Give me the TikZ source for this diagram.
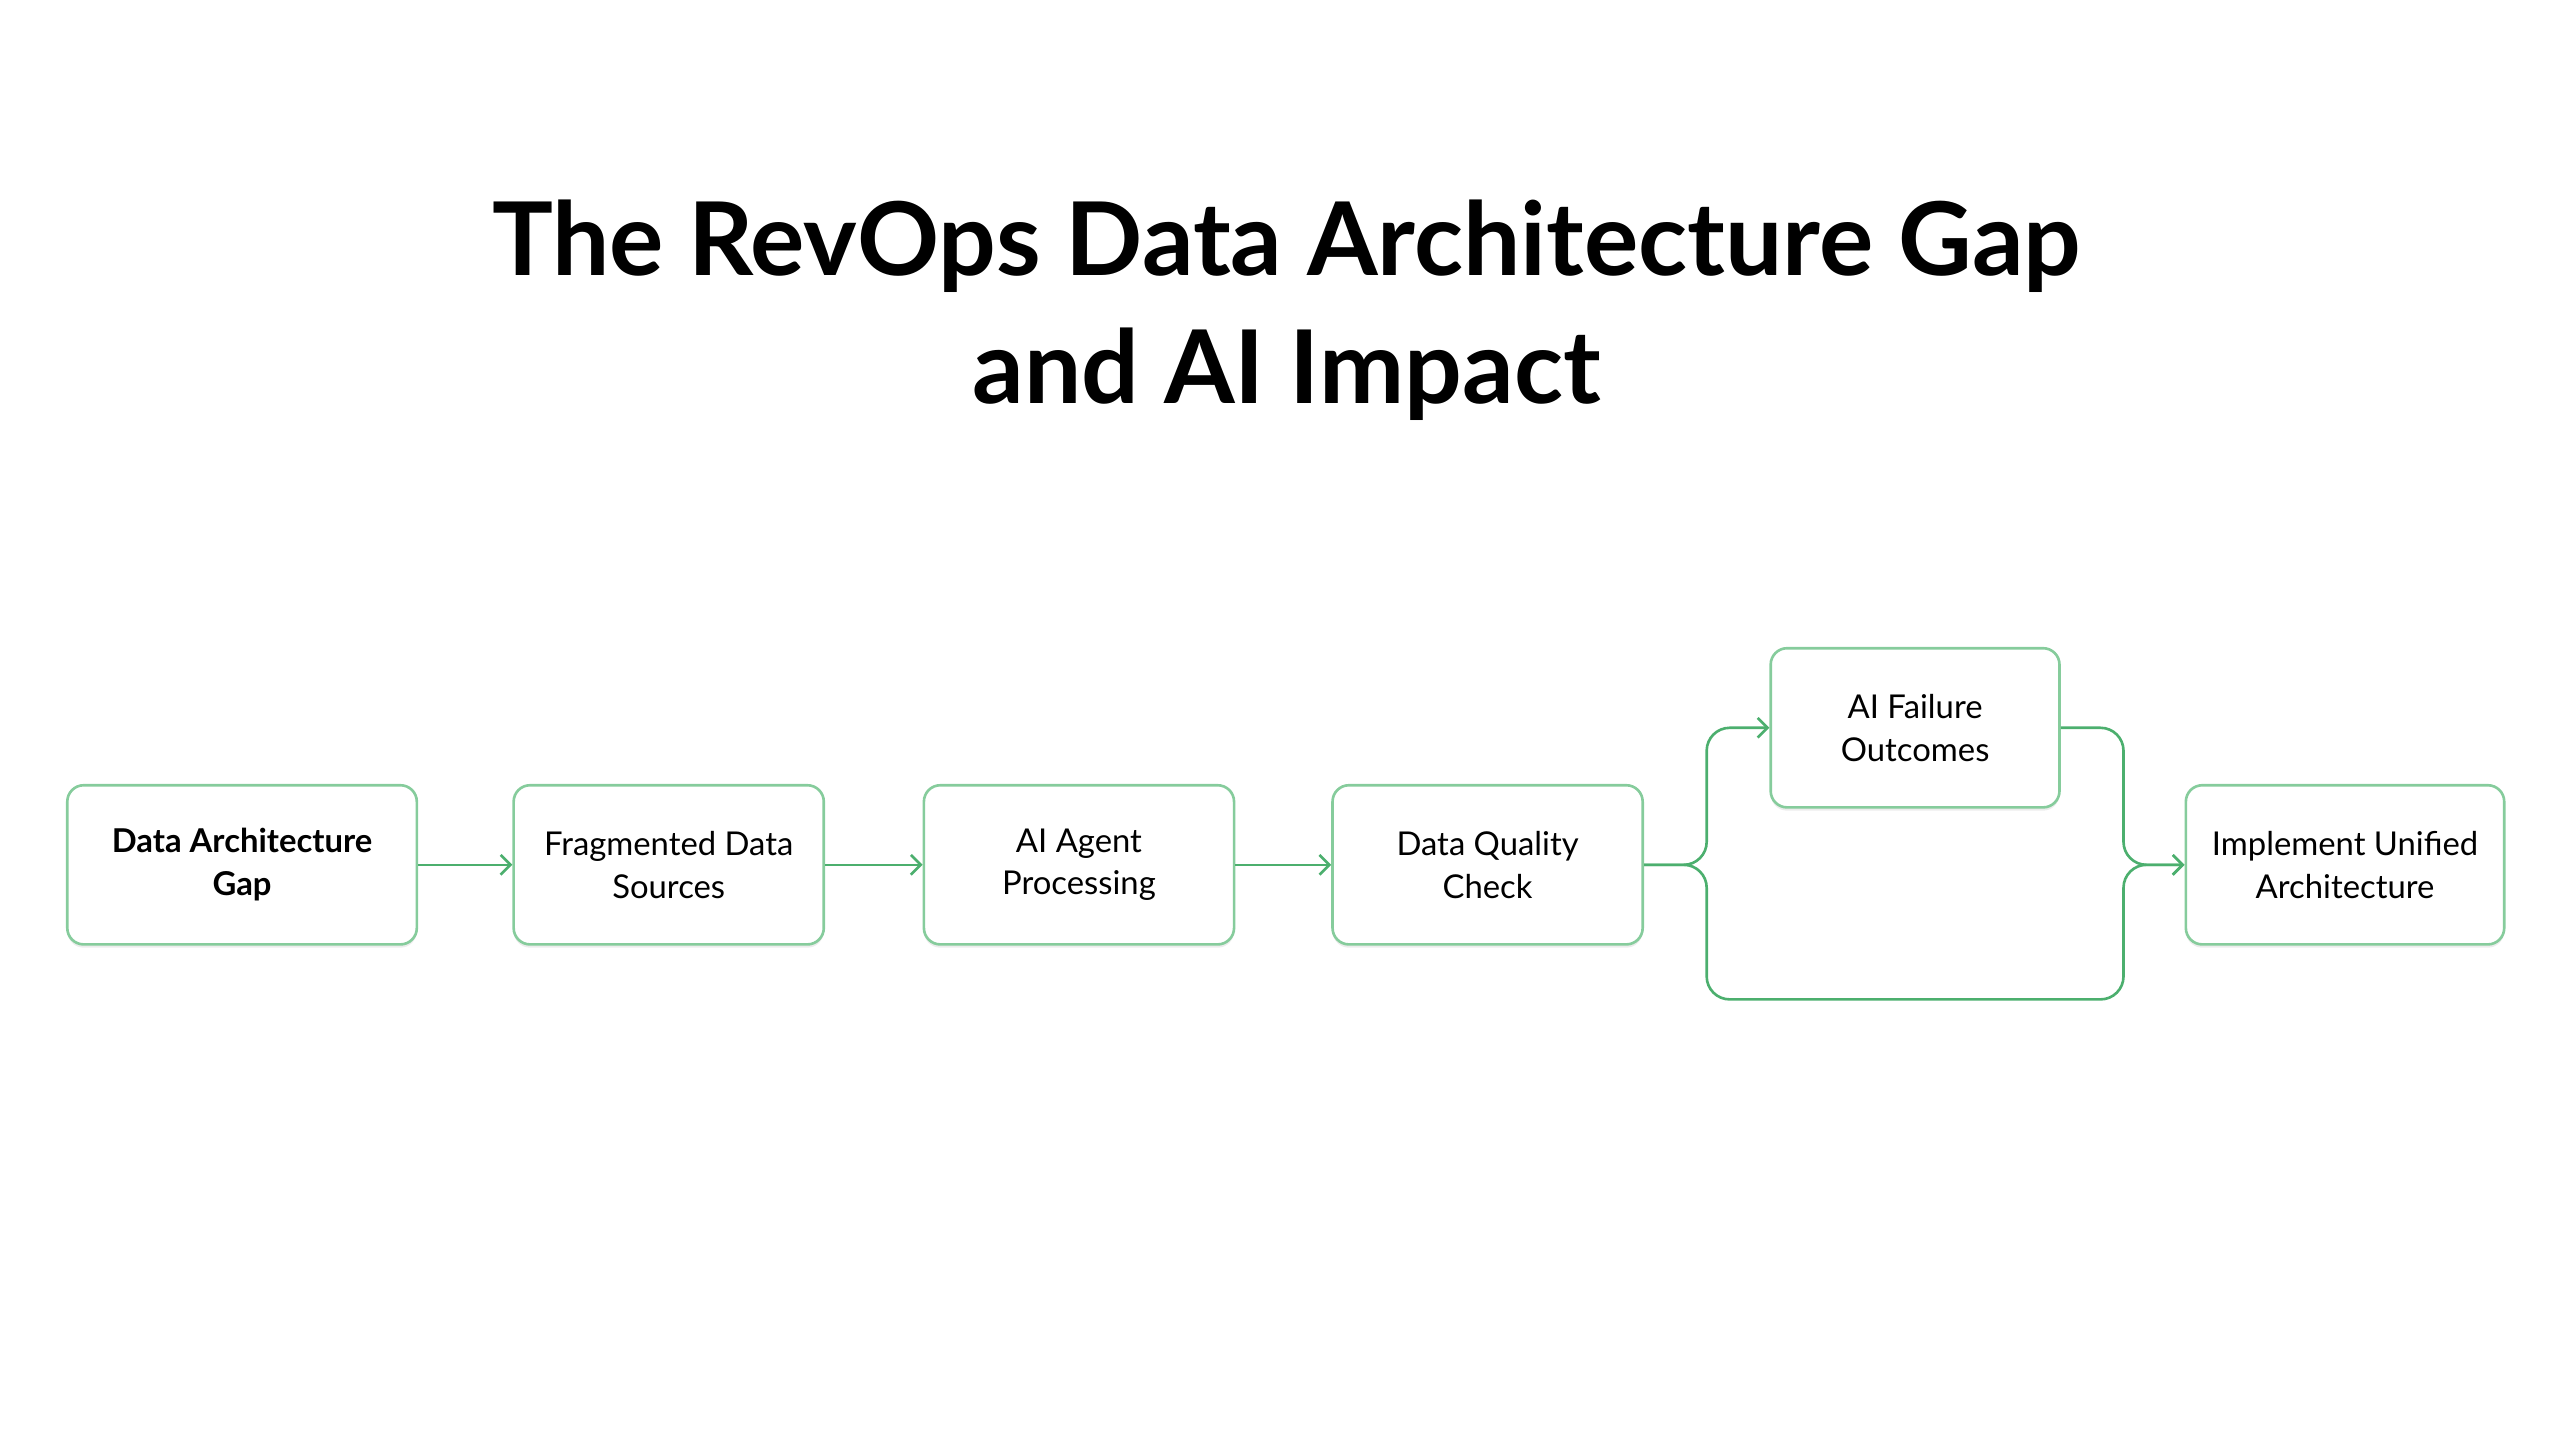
\documentclass[tikz,border=0pt]{standalone}
\usepackage{fontspec}
\setmainfont{Lato}
\usetikzlibrary{arrows.meta,shadows}
\definecolor{bord}{HTML}{86CC9C}
\definecolor{arr}{HTML}{4CAF6E}
\tikzset{
 box/.style={draw=bord,line width=1.6pt,rounded corners=10pt,fill=white,align=center,
  font=\fontsize{20}{26}\selectfont,minimum height=97pt,inner sep=0pt,
  drop shadow={shadow xshift=0pt,shadow yshift=-2pt,opacity=0.15}},
 conn/.style={draw=arr,line width=1.6pt,-{Straight Barb[length=6pt,width=12pt]},rounded corners=14pt}
}
\begin{document}
\begin{tikzpicture}[x=1pt,y=-1pt]
\useasboundingbox (0,0) rectangle (1560,877.5);
\node[font=\fontsize{62}{78}\selectfont\bfseries,align=center] (title) at (784,189) {The RevOps Data Architecture Gap\\and AI Impact};
\node[box,minimum width=213pt,font=\fontsize{20}{26}\selectfont\bfseries] (b1) at (147.5,527) {Data Architecture\\Gap};
\node[box,minimum width=189pt] (b2) at (407.5,527) {Fragmented Data\\Sources};
\node[box,minimum width=189pt] (b3) at (657.5,527) {AI Agent\\Processing};
\node[box,minimum width=189pt] (b4) at (906.5,527) {Data Quality\\Check};
\node[box,minimum width=176pt] (b5) at (1167,443.5) {AI Failure\\Outcomes};
\node[box,minimum width=194pt] (b6) at (1429,527) {Implement Unified\\Architecture};
\draw[conn] (b1) -- (b2);
\draw[conn] (b2) -- (b3);
\draw[conn] (b3) -- (b4);
\draw[conn] (b4.east) -- (1040,527) -- (1040,443.5) -- (b5.west);
\draw[conn] (b4.east) -- (1040,527) -- (1040,609) -- (1294,609) -- (1294,527) -- (b6.west);
\draw[conn] (b5.east) -- (1294,443.5) -- (1294,527) -- (b6.west);
\end{tikzpicture}
\end{document}
